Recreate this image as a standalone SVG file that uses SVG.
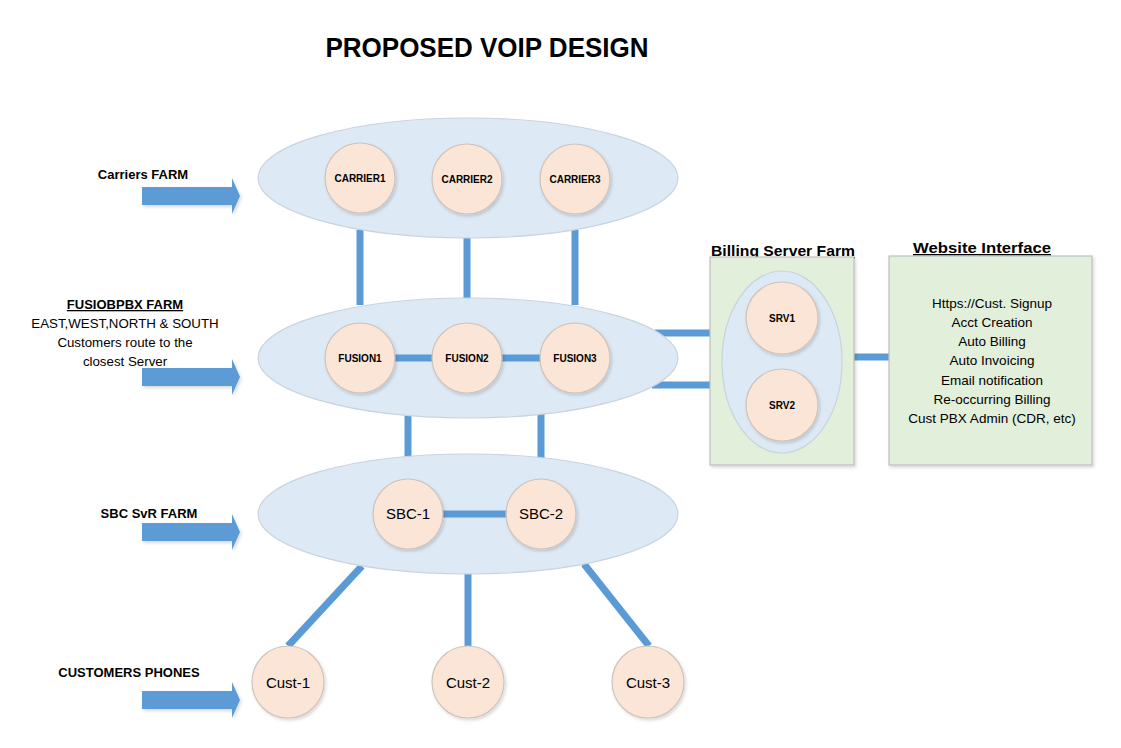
<svg xmlns="http://www.w3.org/2000/svg" width="1121" height="748" viewBox="0 0 1121 748">
<defs>
<style>
.t{font-family:"Liberation Sans",Arial,sans-serif;fill:#000}
.b{font-weight:bold}
.farm{fill:#dde9f5;stroke:#c9d3de;stroke-width:1.2}
.node{fill:#fbe5d6;stroke:#cfc3bb;stroke-width:1.2}
.box{fill:#e2efda;stroke:#bfbfbf;stroke-width:1.2}
.ln{stroke:#5b9bd5;stroke-width:7;fill:none}
.arr{fill:#5b9bd5}
.sm{font-size:10px;font-weight:bold}
.md{font-size:15px}
.lb{font-size:13px;font-weight:bold}
.tx{font-size:13.5px}
.lt{font-size:13.3px}
</style>
<filter id="sh" x="-20%" y="-20%" width="140%" height="140%">
<feDropShadow dx="1.5" dy="2" stdDeviation="1.5" flood-color="#000" flood-opacity="0.15"/>
</filter>
</defs>
<rect width="1121" height="748" fill="#fff"/>

<text class="t b" x="487" y="57" font-size="27" text-anchor="middle" textLength="323" lengthAdjust="spacingAndGlyphs">PROPOSED VOIP DESIGN</text>

<!-- left labels and arrows -->
<g id="label-carriers">
<text class="t lb" x="143" y="179" text-anchor="middle">Carriers FARM</text>
<polygon class="arr" points="142,187 232,187 232,178 240,196 232,214 232,205 142,205" filter="url(#sh)"/>
</g>
<g id="label-fusion">
<text class="t lb" x="125" y="309" text-anchor="middle" text-decoration="underline">FUSIOBPBX FARM</text>
<text class="t lt" x="125" y="328" text-anchor="middle">EAST,WEST,NORTH &amp; SOUTH</text>
<text class="t lt" x="125" y="347" text-anchor="middle">Customers route to the</text>
<text class="t lt" x="125" y="366" text-anchor="middle">closest Server</text>
<polygon class="arr" points="142,368 232,368 232,359 240,377 232,395 232,386 142,386" filter="url(#sh)"/>
</g>
<g id="label-sbc">
<text class="t lb" x="149" y="518" text-anchor="middle">SBC SvR FARM</text>
<polygon class="arr" points="142,523 232,523 232,514 240,532 232,550 232,541 142,541" filter="url(#sh)"/>
</g>
<g id="label-customers">
<text class="t lb" x="129" y="677" text-anchor="middle">CUSTOMERS PHONES</text>
<polygon class="arr" points="142,691 232,691 232,682 240,700 232,718 232,709 142,709" filter="url(#sh)"/>
</g>

<!-- connectors -->
<g id="connectors">
<line class="ln" x1="360" y1="230" x2="360" y2="305"/>
<line class="ln" x1="467" y1="238" x2="467" y2="300"/>
<line class="ln" x1="575" y1="230" x2="575" y2="305"/>
<line class="ln" x1="408" y1="412" x2="408" y2="458"/>
<line class="ln" x1="541" y1="412" x2="541" y2="458"/>
<line class="ln" x1="655" y1="333" x2="711" y2="333"/>
<line class="ln" x1="652" y1="385" x2="711" y2="385"/>
<line class="ln" x1="854" y1="357" x2="889" y2="357"/>
<line class="ln" x1="362" y1="566" x2="288" y2="646"/>
<line class="ln" x1="468" y1="573" x2="468" y2="646"/>
<line class="ln" x1="584" y1="564" x2="649" y2="646"/>
</g>

<!-- farms -->
<g id="carriers-farm">
<ellipse class="farm" cx="468" cy="178" rx="210" ry="60"/>
</g>
<g id="fusion-farm">
<ellipse class="farm" cx="468" cy="358" rx="210" ry="60"/>
</g>
<g id="sbc-farm">
<ellipse class="farm" cx="468" cy="514" rx="210" ry="60"/>
</g>

<g id="inner-links">
<line class="ln" x1="392" y1="358" x2="435" y2="358" stroke-linecap="round" stroke-width="6"/>
<line class="ln" x1="500" y1="358" x2="543" y2="358" stroke-linecap="round" stroke-width="6"/>
<line class="ln" x1="440" y1="514" x2="507" y2="514" stroke-linecap="round" stroke-width="6"/>
</g>

<g id="carrier1"><circle class="node" cx="360" cy="178" r="35" filter="url(#sh)"/><text class="t sm" x="360" y="182" text-anchor="middle">CARRIER1</text></g>
<g id="carrier2"><circle class="node" cx="467" cy="179" r="35" filter="url(#sh)"/><text class="t sm" x="467" y="183" text-anchor="middle">CARRIER2</text></g>
<g id="carrier3"><circle class="node" cx="575" cy="179" r="35" filter="url(#sh)"/><text class="t sm" x="575" y="183" text-anchor="middle">CARRIER3</text></g>

<g id="fusion1"><circle class="node" cx="360" cy="358" r="35" filter="url(#sh)"/><text class="t sm" x="360" y="362" text-anchor="middle">FUSION1</text></g>
<g id="fusion2"><circle class="node" cx="467" cy="358" r="35" filter="url(#sh)"/><text class="t sm" x="467" y="362" text-anchor="middle">FUSION2</text></g>
<g id="fusion3"><circle class="node" cx="575" cy="358" r="35" filter="url(#sh)"/><text class="t sm" x="575" y="362" text-anchor="middle">FUSION3</text></g>

<g id="sbc1"><circle class="node" cx="408" cy="514" r="35" filter="url(#sh)"/><text class="t md" x="408" y="519" text-anchor="middle">SBC-1</text></g>
<g id="sbc2"><circle class="node" cx="541" cy="514" r="35" filter="url(#sh)"/><text class="t md" x="541" y="519" text-anchor="middle">SBC-2</text></g>

<g id="cust1"><circle class="node" cx="288" cy="682" r="36" filter="url(#sh)"/><text class="t md" x="288" y="688" text-anchor="middle">Cust-1</text></g>
<g id="cust2"><circle class="node" cx="468" cy="682" r="36" filter="url(#sh)"/><text class="t md" x="468" y="688" text-anchor="middle">Cust-2</text></g>
<g id="cust3"><circle class="node" cx="648" cy="682" r="36" filter="url(#sh)"/><text class="t md" x="648" y="688" text-anchor="middle">Cust-3</text></g>

<!-- billing -->
<g id="billing-farm">
<text class="t b" x="783" y="256" font-size="15" text-anchor="middle" text-decoration="underline" textLength="144" lengthAdjust="spacingAndGlyphs">Billing Server Farm</text>
<rect class="box" x="710" y="257" width="144" height="208" filter="url(#sh)"/>
<ellipse class="farm" cx="782" cy="362" rx="60" ry="91"/>
</g>
<g id="srv1"><circle class="node" cx="782" cy="318" r="36" filter="url(#sh)"/><text class="t sm" x="782" y="322" text-anchor="middle">SRV1</text></g>
<g id="srv2"><circle class="node" cx="782" cy="405" r="36" filter="url(#sh)"/><text class="t sm" x="782" y="409" text-anchor="middle">SRV2</text></g>

<!-- website -->
<g id="website">
<text class="t b" x="982" y="253" font-size="15" text-anchor="middle" text-decoration="underline" textLength="138" lengthAdjust="spacingAndGlyphs">Website Interface</text>
<rect class="box" x="889" y="256" width="203" height="209" filter="url(#sh)"/>
<text class="t tx" x="992" y="308" text-anchor="middle">Https://Cust. Signup</text>
<text class="t tx" x="992" y="327" text-anchor="middle">Acct Creation</text>
<text class="t tx" x="992" y="346" text-anchor="middle">Auto Billing</text>
<text class="t tx" x="992" y="365" text-anchor="middle">Auto Invoicing</text>
<text class="t tx" x="992" y="385" text-anchor="middle">Email notification</text>
<text class="t tx" x="992" y="404" text-anchor="middle">Re-occurring Billing</text>
<text class="t tx" x="992" y="423" text-anchor="middle">Cust PBX Admin (CDR, etc)</text>
</g>
</svg>
